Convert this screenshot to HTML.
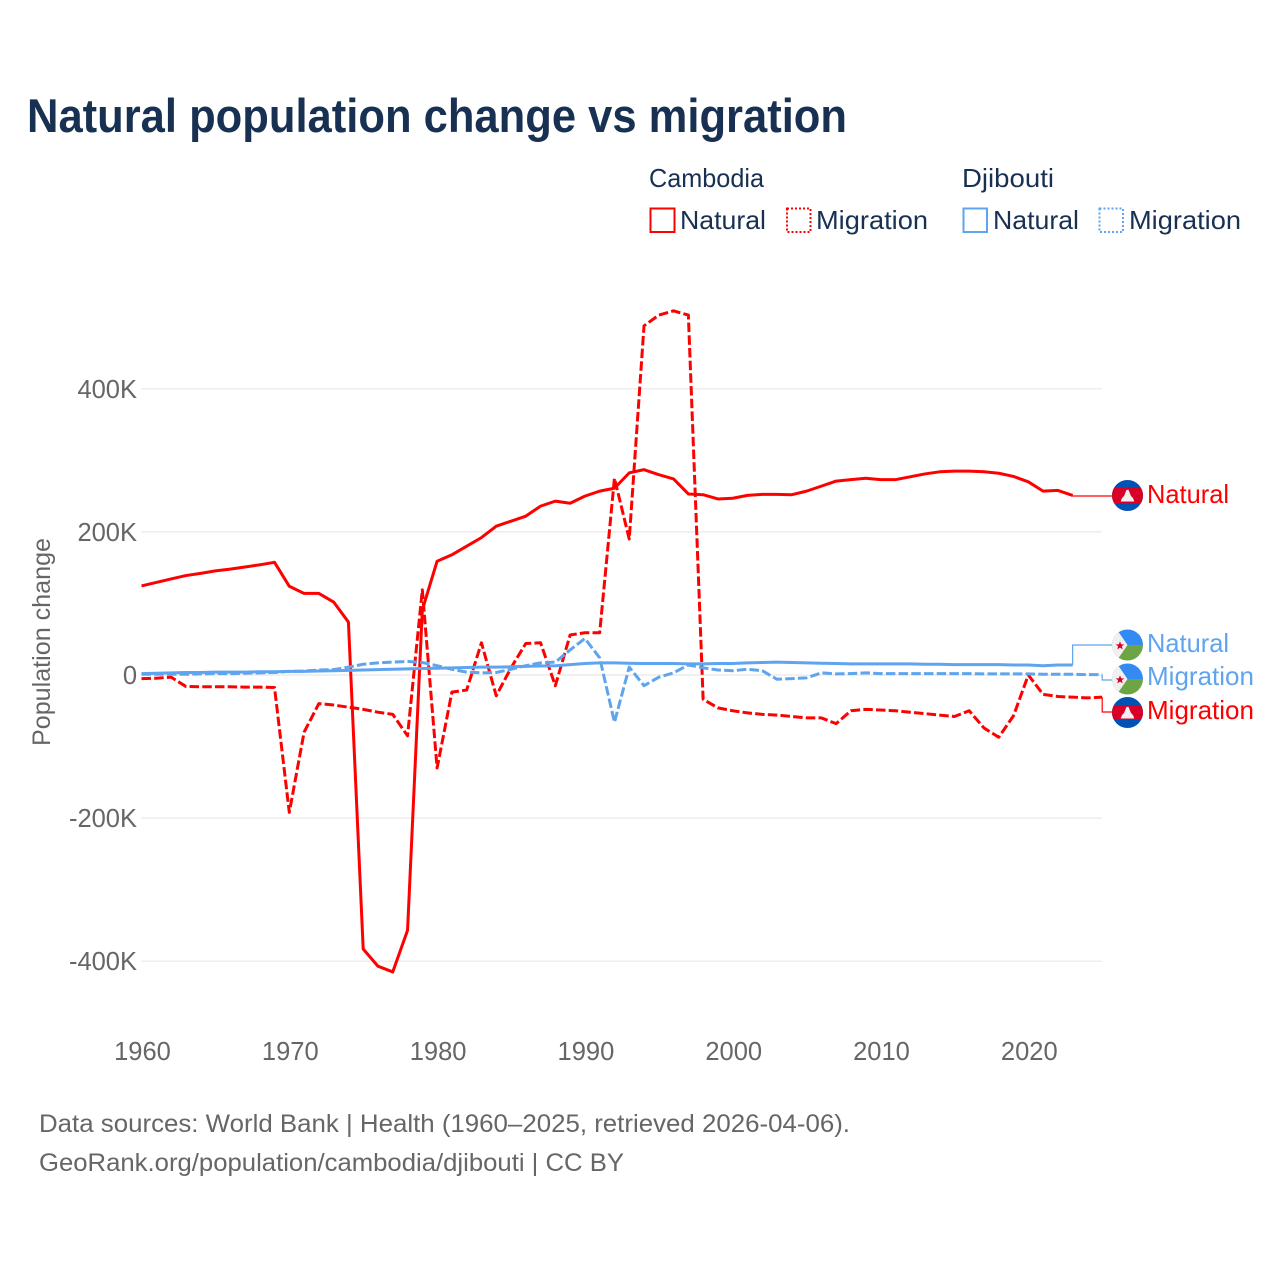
<!DOCTYPE html>
<html lang="en">
<head>
<meta charset="utf-8">
<title>Natural population change vs migration</title>
<style>
html,body{margin:0;padding:0;background:#fff;}
svg{display:block;font-family:"Liberation Sans",sans-serif;}
</style>
</head>
<body>
<svg id="chart" xmlns="http://www.w3.org/2000/svg" width="1280" height="1280" viewBox="0 0 1280 1280">
  <defs>
    <clipPath id="flag-clip"><circle cx="0" cy="0" r="15.5"/></clipPath>
    <g id="flag-cambodia">
      <g clip-path="url(#flag-clip)">
        <rect x="-16" y="-16" width="32" height="32" fill="#0052b4"/>
        <rect x="-16" y="-7.5" width="32" height="15" fill="#d80027"/>
        <path d="M-6.8 6 H6.8 L5.6 2.8 L3.4 0.4 L1 -5.6 H-1 L-3.4 0.4 L-5.6 2.8 Z" fill="#f0f0f0"/>
      </g>
    </g>
    <g id="flag-djibouti">
      <g clip-path="url(#flag-clip)">
        <rect x="-16" y="-16" width="32" height="16" fill="#338af3"/>
        <rect x="-16" y="0" width="32" height="16" fill="#6da544"/>
        <path d="M-16 -16 H-11 L0 0 L-11 16 H-16 Z" fill="#f0f0f0"/>
        <path d="M-7.5 -3.6 L-6.3 -0.6 L-3.2 -0.6 L-5.6 1.3 L-4.8 4.4 L-7.5 2.6 L-10.2 4.4 L-9.4 1.3 L-11.8 -0.6 L-8.7 -0.6 Z" fill="#d80027"/>
      </g>
    </g>
  </defs>

  <text x="27" y="132" font-size="47" font-weight="700" fill="#183153" textLength="820" lengthAdjust="spacingAndGlyphs">Natural population change vs migration</text>

  <g font-size="26" fill="#183153">
    <text x="649" y="187" textLength="115" lengthAdjust="spacingAndGlyphs">Cambodia</text>
    <text x="962" y="187" textLength="92" lengthAdjust="spacingAndGlyphs">Djibouti</text>

    <rect x="650.5" y="208.5" width="24" height="23.5" fill="none" stroke="#ff0000" stroke-width="2"/>
    <text x="680" y="229" textLength="86" lengthAdjust="spacingAndGlyphs">Natural</text>
    <rect x="787" y="208.5" width="23.5" height="23.5" fill="none" stroke="#ff0000" stroke-width="2" stroke-dasharray="2 2"/>
    <text x="816" y="229" textLength="112" lengthAdjust="spacingAndGlyphs">Migration</text>

    <rect x="963.5" y="208.5" width="23.5" height="23.5" fill="none" stroke="#5fa4ee" stroke-width="2"/>
    <text x="993" y="229" textLength="86" lengthAdjust="spacingAndGlyphs">Natural</text>
    <rect x="1099.5" y="208.5" width="23.5" height="23.5" fill="none" stroke="#5fa4ee" stroke-width="2" stroke-dasharray="2 2"/>
    <text x="1129" y="229" textLength="112" lengthAdjust="spacingAndGlyphs">Migration</text>
  </g>

  <text transform="translate(50 642) rotate(-90)" text-anchor="middle" font-size="25" fill="#666666" textLength="208" lengthAdjust="spacingAndGlyphs">Population change</text>

  <g id="grid"></g>
  <g id="y-ticks"></g>
  <g id="x-ticks"></g>
  <g id="series"></g>
  <g id="connectors"></g>

  <g font-size="26">
    <use href="#flag-cambodia" x="1127.5" y="495.5"/>
    <use href="#flag-djibouti" x="1127.5" y="645"/>
    <use href="#flag-djibouti" x="1127.5" y="679"/>
    <use href="#flag-cambodia" x="1127.5" y="712.5"/>
    <text x="1147" y="503" fill="#ff0000" textLength="82" lengthAdjust="spacingAndGlyphs">Natural</text>
    <text x="1147" y="652" fill="#5fa4ee" textLength="82" lengthAdjust="spacingAndGlyphs">Natural</text>
    <text x="1147" y="685" fill="#5fa4ee" textLength="107" lengthAdjust="spacingAndGlyphs">Migration</text>
    <text x="1147" y="719" fill="#ff0000" textLength="107" lengthAdjust="spacingAndGlyphs">Migration</text>
  </g>

  <g font-size="25" fill="#666666">
    <text x="39" y="1132" textLength="811" lengthAdjust="spacingAndGlyphs">Data sources: World Bank | Health (1960–2025, retrieved 2026-04-06).</text>
    <text x="39" y="1171" textLength="585" lengthAdjust="spacingAndGlyphs">GeoRank.org/population/cambodia/djibouti | CC BY</text>
  </g>
</svg>
<script>
const startYear = 1960;
const yTickValues = [400, 200, 0, -200, -400];
const yTickLabels = ["400K", "200K", "0", "-200K", "-400K"];
const xTickValues = [1960, 1970, 1980, 1990, 2000, 2010, 2020];
const xTickLabels = ["1960", "1970", "1980", "1990", "2000", "2010", "2020"];

const cambodiaNatural = [124.5,129.4,134.3,139,142,145.5,148,151,154,157.5,124,114,114,102,74,-383,-407,-415,-357,91,159,168,180,192,208,215,222,236,243,240,250,257,261,282.5,287,280,274,253,252,246,247,251,252.5,252.5,252,257,264,271,273,275,273,273,277,281,284,285,285,284,282,277.5,270,257,258,251];
const cambodiaMigration = [-5,-4.5,-3,-16,-16.5,-16.5,-16.5,-17,-17,-17.5,-192,-80,-40,-42,-45,-48,-52,-55,-85,119,-130,-24,-21,45,-29,10,44,45,-15,56,59,59,275,190,488,503,509,503,-34,-46,-50,-53,-55,-56,-58,-60,-60,-68,-50,-48,-49,-50,-52,-54,-56,-58,-50,-74,-87,-57,0,-27,-30,-31,-32,-31];
const djiboutiNatural = [2,2.5,3,3.5,3.5,4,4,4,4.5,4.5,5,5,5.5,6,6.5,7,7.5,8,8.5,9,9.5,10,10.5,11,11,11.5,12,12.5,13,14.5,16,17,17,16.5,16,16,16,15.5,15.5,16,16,17,17.5,18,17.5,17,16.5,16,15.5,15.5,15.5,15.5,15.5,15,15,14.5,14.5,14.5,14.5,14,14,13,14,14];
const djiboutiMigration = [1,1,1,1,1.5,2,2,2.5,3,3.5,5,5.5,7,7.5,11,15,17,18,19,17.5,13,8,4,3,3.5,8,13,17,18,35,51,24,-66,11,-15,-3,3,14,10,7,6,8,6,-6,-5,-4,3,1.5,2,3,2,2,2,2,2,2,2,1.5,1.5,1.5,1.5,1,1,1,0.5,0.5];

const NS = "http://www.w3.org/2000/svg";
const RED = "#ff0000";
const BLUE = "#5fa4ee";

function xScale(year) { return 141.5 + (year - 1960) * 14.78; }
function yScale(valueK) { return 675 - valueK * 0.7155; }

function make(tag, attrs, parent) {
  const el = document.createElementNS(NS, tag);
  for (const k in attrs) el.setAttribute(k, attrs[k]);
  parent.appendChild(el);
  return el;
}

const grid = document.getElementById("grid");
const yTicks = document.getElementById("y-ticks");
const xTicks = document.getElementById("x-ticks");
const seriesGroup = document.getElementById("series");
const connectors = document.getElementById("connectors");

yTickValues.forEach(function (v, i) {
  const line = make("line", { x1: 141, x2: 1102, y1: yScale(v), y2: yScale(v), stroke: "#e8e8e8", "stroke-width": 1.2 }, grid);
  
  
  const t = make("text", { x: 137, y: yScale(v) + 9, "text-anchor": "end", "font-size": 25.5, fill: "#666666" }, yTicks);
  t.textContent = yTickLabels[i];
  
  
});

xTickValues.forEach(function (v, i) {
  const t = make("text", { x: xScale(v) + 1, y: 1060, "text-anchor": "middle", "font-size": 25.5, fill: "#666666" }, xTicks);
  t.textContent = xTickLabels[i];
  
  
});

function drawSeries(values, color, dashed, name) {
  const pts = values.map(function (v, i) { return xScale(startYear + i).toFixed(2) + "," + yScale(v).toFixed(2); }).join(" ");
  const attrs = { points: pts, fill: "none", stroke: color, "stroke-width": 3, "stroke-linejoin": "round" };
  if (dashed) attrs["stroke-dasharray"] = "9.5 3.2";
  const line = make("polyline", attrs, seriesGroup);
  
  
}

function drawConnector(values, color, labelY, name) {
  const last = values.length - 1;
  const px = xScale(startYear + last);
  const py = yScale(values[last]);
  const d = "M" + px.toFixed(2) + " " + py.toFixed(2) + " V" + labelY + " H1112";
  const path = make("path", { d: d, fill: "none", stroke: color, "stroke-width": 1.2 }, connectors);
  
  
}

drawSeries(cambodiaNatural, RED, false, 'line-cambodia-natural');
drawSeries(cambodiaMigration, RED, true, 'line-cambodia-migration');
drawSeries(djiboutiMigration, BLUE, true, 'line-djibouti-migration');
drawSeries(djiboutiNatural, BLUE, false, 'line-djibouti-natural');

drawConnector(cambodiaNatural, RED, 496, 'connector-cambodia-natural');
drawConnector(djiboutiNatural, BLUE, 645, 'connector-djibouti-natural');
drawConnector(djiboutiMigration, BLUE, 680, 'connector-djibouti-migration');
drawConnector(cambodiaMigration, RED, 712, 'connector-cambodia-migration');
</script>
</body>
</html>
